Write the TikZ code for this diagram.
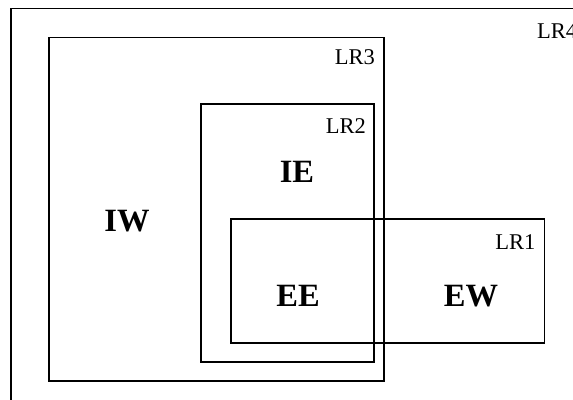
\documentclass[tikz,border=0pt]{standalone}
\usepackage{fontspec}
\setmainfont{Liberation Serif}
\begin{document}
\begin{tikzpicture}[x=1pt,y=1pt,
  box/.style={draw=black,line width=1.8pt,inner sep=0pt,outer sep=0pt},
  lrlabel/.style={inner sep=0pt,anchor=east,font=\fontsize{22.5}{27}\selectfont},
  region/.style={inner sep=0pt,font=\fontsize{32.5}{39}\selectfont\bfseries}]
\useasboundingbox (0,0) rectangle (573,399);
\clip (0,0) rectangle (573,399);
\fill[white] (0,0) rectangle (573,399);
% LR4 (outer, cut off at right and bottom)
\node[box,minimum width=700pt,minimum height=500pt,anchor=north west] (lr4) at (11,390.5) {};
% LR3
\node[box,minimum width=335pt,minimum height=343.5pt] (lr3) at (216.5,189.75) {};
% LR2
\node[box,minimum width=173pt,minimum height=258pt] (lr2) at (287.5,166) {};
% LR1
\node[box,minimum width=313.5pt,minimum height=124pt] (lr1) at (387.75,118) {};
% labels
\node[lrlabel,anchor=west] (t4) at (537,368) {LR4};
\node[lrlabel] (t3) at ([xshift=-9pt,yshift=-20pt]lr3.north east) {LR3};
\node[lrlabel] (t2) at ([xshift=-8pt,yshift=-22pt]lr2.north east) {LR2};
\node[lrlabel] (t1) at ([xshift=-9pt,yshift=-23pt]lr1.north east) {LR1};
% regions
\node[region] (iw) at (127,178) {IW};
\node[region] (ie) at (297,227) {IE};
\node[region] (ee) at (298,103) {EE};
\node[region] (ew) at (471,103) {EW};
\end{tikzpicture}
\end{document}
